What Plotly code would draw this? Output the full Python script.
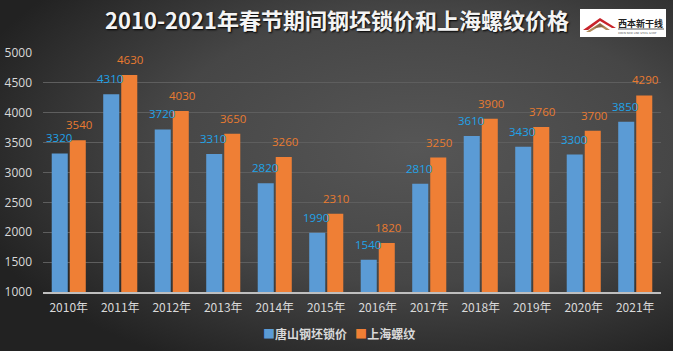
import base64
import plotly.graph_objects as go

years = ["2010年", "2011年", "2012年", "2013年", "2014年", "2015年",
         "2016年", "2017年", "2018年", "2019年", "2020年", "2021年"]
tangshan_billet = [3320, 4310, 3720, 3310, 2820, 1990, 1540, 2810, 3610, 3430, 3300, 3850]
shanghai_rebar = [3540, 4630, 4030, 3650, 3260, 2310, 1820, 3250, 3900, 3760, 3700, 4290]
series_names = ["唐山钢坯锁价", "上海螺纹"]
series_colors = ["#5b9bd5", "#ef7f35"]
label_colors = ["#1fa3e8", "#e97b30"]
title_text = "2010-2021年春节期间钢坯锁价和上海螺纹价格"

W, H = 673, 351
ML, MR, MT, MB = 43, 12, 53, 59
PW, PH = W - ML - MR, H - MT - MB

bg_svg = f'''<svg xmlns="http://www.w3.org/2000/svg" width="{W}" height="{H}" viewBox="0 0 {W} {H}">
<defs><radialGradient id="g" cx="62%" cy="42%" r="70%" fx="62%" fy="42%">
<stop offset="0%" stop-color="#565656"/><stop offset="55%" stop-color="#464646"/>
<stop offset="100%" stop-color="#222222"/></radialGradient></defs>
<rect width="{W}" height="{H}" fill="url(#g)"/></svg>'''
bg_src = "data:image/svg+xml;base64," + base64.b64encode(bg_svg.encode()).decode()

logo_svg = '''<svg xmlns="http://www.w3.org/2000/svg" width="86" height="28" viewBox="0 0 86 28">
<rect width="86" height="28" fill="#ffffff"/>
<polygon points="3,21 20,9 36,19 32,19 20,12 8,21" fill="#c8242b"/>
<polygon points="6,23 20,14 30,21 26,21 20,17 10,23" fill="#b08a5a"/>
<polygon points="14,19 20,14.5 24,18" fill="#8a6a4a"/>
<text x="38" y="18" font-family="Noto Sans CJK SC" font-size="9" font-weight="bold" fill="#222">西本新干线</text>
<line x1="38" y1="20" x2="84" y2="20" stroke="#333" stroke-width="0.8"/>
<text x="38" y="24.5" font-family="DejaVu Sans" font-size="2.6" fill="#555">XIBEN NEW LINE STEEL SHOP</text>
</svg>'''
logo_src = "data:image/svg+xml;base64," + base64.b64encode(logo_svg.encode()).decode()

fig = go.Figure()
for name, vals, col in zip(series_names, [tangshan_billet, shanghai_rebar], series_colors):
    fig.add_trace(go.Bar(
        x=years, y=vals, name=name,
        marker=dict(color=col, line=dict(width=0)),
    ))

annotations = []
for vals, col, shift in zip([tangshan_billet, shanghai_rebar], label_colors, [-10, 10]):
    for yr, v in zip(years, vals):
        annotations.append(dict(
            x=yr, y=v, xref="x", yref="y", text=str(v), showarrow=False,
            xanchor="center", yanchor="bottom", xshift=shift, yshift=6,
            font=dict(family="Open Sans", size=11.5, color=col),
        ))

legend_text = (f"<span style='color:{series_colors[0]}'>■</span><b>{series_names[0]}</b>"
               f"   <span style='color:{series_colors[1]}'>■</span><b>{series_names[1]}</b>")
annotations.append(dict(text=legend_text, xref="paper", yref="paper",
                        x=(339 - ML) / PW, y=-(333 - (H - MB)) / PH,
                        xanchor="center", yanchor="middle", showarrow=False,
                        font=dict(family="Noto Sans CJK SC", size=12, color="#d9d9d9")))

fig.update_layout(
    width=W, height=H,
    margin=dict(l=ML, r=MR, t=MT, b=MB, autoexpand=False),
    paper_bgcolor="#3a3a3a",
    plot_bgcolor="rgba(0,0,0,0)",
    barmode="group", bargap=0.30, bargroupgap=0.11,
    title=dict(text=f"<b>{title_text}</b>", x=337 / W, xanchor="center",
               y=1 - 21 / H, yanchor="middle",
               font=dict(family="Noto Sans CJK SC", size=22, color="#f4f4f4",
                         shadow="1px 1px 2px #000000")),
    showlegend=False,
    annotations=annotations,
    images=[
        dict(source=bg_src, xref="paper", yref="paper",
             x=-ML / PW, y=1 + MT / PH, sizex=W / PW, sizey=H / PH,
             xanchor="left", yanchor="top", sizing="stretch", layer="below"),
        dict(source=logo_src, xref="paper", yref="paper",
             x=(580 - ML) / PW, y=1 + (MT - 9) / PH, sizex=86 / PW, sizey=28 / PH,
             xanchor="left", yanchor="top", sizing="stretch", layer="above"),
    ],
    font=dict(family="Open Sans", color="#d9d9d9"),
)
fig.update_xaxes(
    showgrid=False, showline=True, linecolor="#bfbfbf", linewidth=1.5,
    ticks="", tickfont=dict(family="Noto Sans CJK SC", size=12, color="#d9d9d9"),
    ticklabelstandoff=4,
)
fig.update_yaxes(
    range=[1000, 5000], dtick=500, showgrid=True, gridcolor="#5e5e5e", gridwidth=1,
    zeroline=False, showline=False, ticks="",
    tickfont=dict(family="Open Sans", size=12, color="#d9d9d9"),
    ticklabelstandoff=10,
)

fig.write_html("out.html")
